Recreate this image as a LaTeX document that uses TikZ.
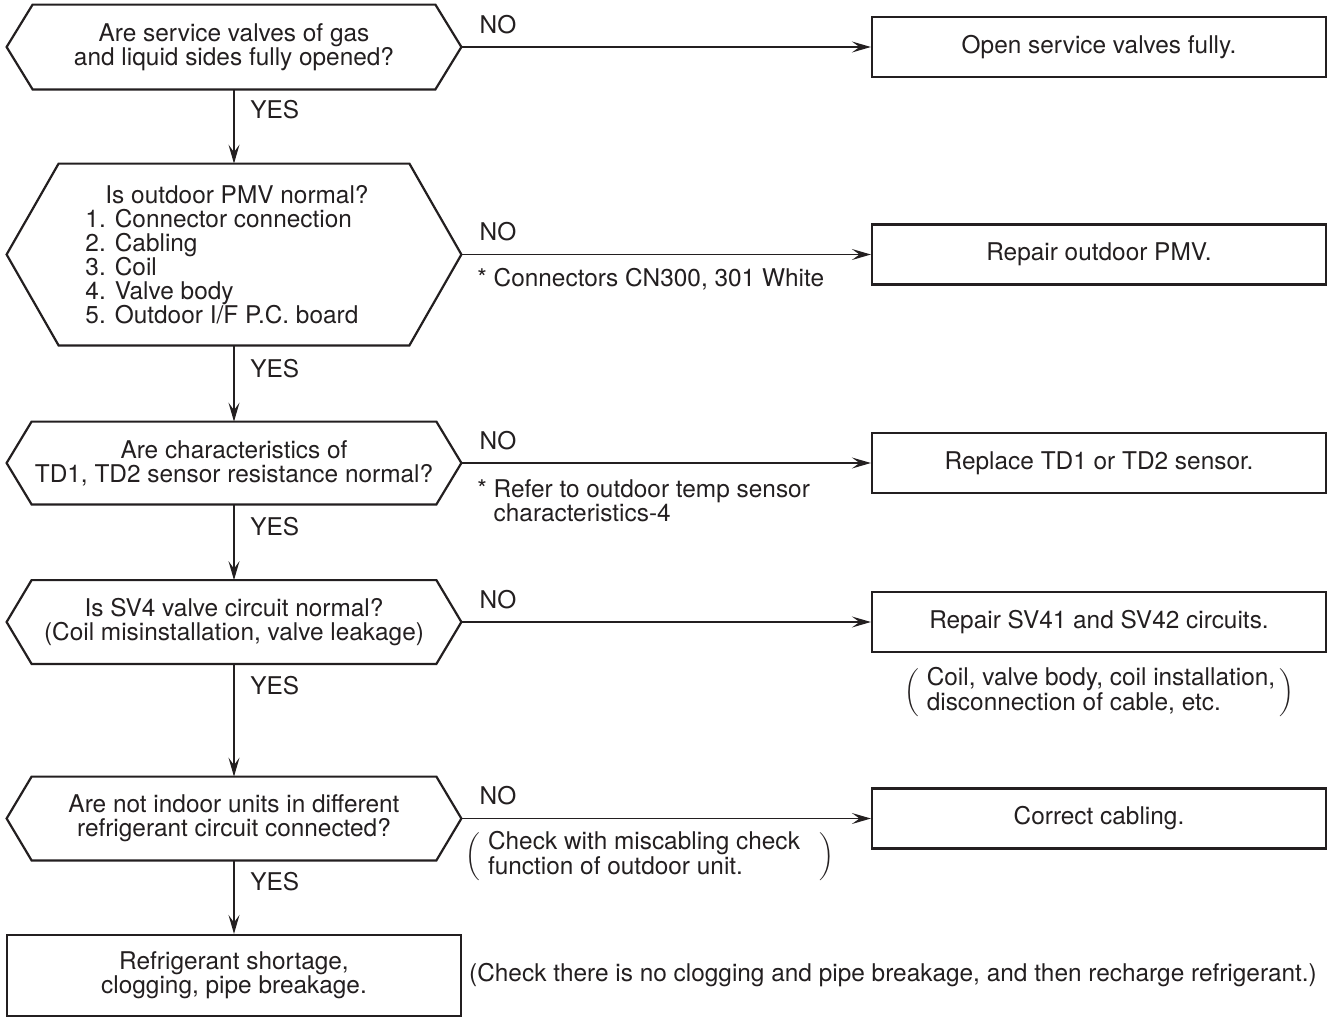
\documentclass[tikz,border=0pt]{standalone}
\usepackage{fontspec}
\setmainfont{TeX Gyre Heros}
\usepackage{xcolor}
\usepackage{tikz}
\usetikzlibrary{arrows.meta, calc}
\definecolor{chInk}{HTML}{231F20}

\begin{document}
\begin{tikzpicture}[
    x=0.5pt, y=-0.5pt,
    >={Stealth[length=9.5pt, width=5.5pt, inset=3.8pt]},
    txt/.style={font=\fontsize{12.2pt}{12pt}\selectfont, text=chInk, inner sep=0pt},
    quest/.style={txt, align=center, minimum width=227pt},
    hexline/.style={draw=chInk, line width=1.1pt, line join=miter},
    act/.style={txt, draw=chInk, line width=1.1pt, minimum width=227pt, minimum height=30pt, align=center},
    flow/.style={->, draw=chInk, line width=0.6pt},
    lbl/.style={txt},
]
\useasboundingbox (0,0) rectangle (1334,1018);

% ---- Left: checks ----
\node[quest, minimum height=42pt]   (q1) at (234,47)    {Are service valves of gas\\and liquid sides fully opened?};
\node[quest, minimum height=90.5pt, align=left] (q2) at (234,254.5)
  {\rule{10pt}{0pt}Is outdoor PMV normal?\rule{7pt}{0pt}\\1. Connector connection\\2. Cabling\\3. Coil\\4. Valve body\\5. Outdoor I/F P.C. board};
\node[quest, minimum height=41pt]   (q3) at (234,463)   {Are characteristics of\\TD1, TD2 sensor resistance normal?};
\node[quest, minimum height=41.5pt] (q4) at (234,622)   {Is SV4 valve circuit normal?\\(Coil misinstallation, valve leakage)};
\node[quest, minimum height=41.5pt] (q5) at (234,818.5) {Are not indoor units in different\\refrigerant circuit connected?};
\node[act, minimum height=40.5pt]   (fin) at (234,975.5) {Refrigerant shortage,\\clogging, pipe breakage.};

% hexagon outlines
\foreach \q/\c in {q1/26, q2/52, q3/25, q4/25, q5/25}
  \draw[hexline] ($(\q.north west)+(\c,0)$) -- ($(\q.north east)+(-\c,0)$) -- (\q.east)
    -- ($(\q.south east)+(-\c,0)$) -- ($(\q.south west)+(\c,0)$) -- (\q.west) -- cycle;

% ---- Right: remedies ----
\node[act] (r1) at (1099,47)    {Open service valves fully.};
\node[act] (r2) at (1099,254.5) {Repair outdoor PMV.};
\node[act] (r3) at (1099,463)   {Replace TD1 or TD2 sensor.};
\node[act] (r4) at (1099,622)   {Repair SV41 and SV42 circuits.};
\node[act] (r5) at (1099,818.5) {Correct cabling.};

% YES path
\draw[flow] (q1.south) -- (q2.north);
\draw[flow] (q2.south) -- (q3.north);
\draw[flow] (q3.south) -- (q4.north);
\draw[flow] (q4.south) -- (q5.north);
\draw[flow] (q5.south) -- (fin.north);

% NO path
\draw[flow] (q1.east) -- (r1.west);
\draw[flow] (q2.east) -- (r2.west);
\draw[flow] (q3.east) -- (r3.west);
\draw[flow] (q4.east) -- (r4.west);
\draw[flow] (q5.east) -- (r5.west);

\node[lbl, anchor=west] (yes1) at (250,110) {YES};
\node[lbl, anchor=west] (yes2) at (250,369) {YES};
\node[lbl, anchor=west] (yes3) at (250,527) {YES};
\node[lbl, anchor=west] (yes4) at (250,686) {YES};
\node[lbl, anchor=west] (yes5) at (250,882) {YES};

\node[lbl] (no1) at (498,25)  {NO};
\node[lbl] (no2) at (498,232) {NO};
\node[lbl] (no3) at (498,441) {NO};
\node[lbl] (no4) at (498,600) {NO};
\node[lbl] (no5) at (498,796) {NO};

% --- notes ---
\node[lbl, anchor=west] (n2) at (477,279) {* Connectors CN300, 301 White};
\node[lbl, anchor=west, align=left] (n3) at (477,501)
  {* Refer to outdoor temp sensor\\\phantom{* }characteristics-4};
\node[lbl] (c4) at (1099,692.5)
  {$\left(\hspace{4pt}\begin{tabular}{@{}l@{}}Coil, valve body, coil installation,\\disconnection of cable, etc.\end{tabular}\hspace{2pt}\right)$};
\node[lbl] (c5) at (650,856.5)
  {$\left(\hspace{4pt}\begin{tabular}{@{}l@{}}Check with miscabling check\\function of outdoor unit.\end{tabular}\hspace{10pt}\right)$};
\node[lbl] (c6) at (893,975) {(Check there is no clogging and pipe breakage, and then recharge refrigerant.)};

\end{tikzpicture}
\end{document}
